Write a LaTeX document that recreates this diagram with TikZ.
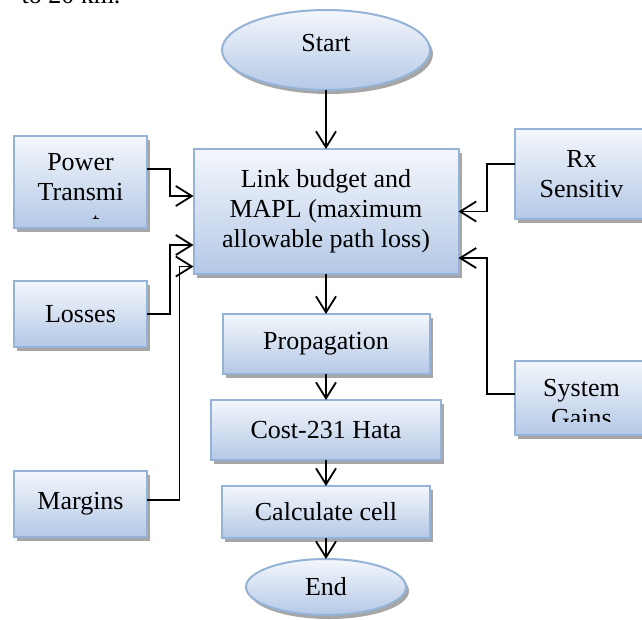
\documentclass[tikz,border=0pt]{standalone}
\usepackage{fontspec}
\setmainfont{Liberation Serif}
\usetikzlibrary{positioning,shapes.geometric,shadows,arrows.meta}
\definecolor{boxline}{RGB}{149,179,215}
\definecolor{boxtop}{RGB}{244,247,252}
\definecolor{boxbot}{RGB}{180,200,230}

\begin{document}
\begin{tikzpicture}[x=1pt,y=-1pt,
		font=\fontsize{26}{30}\selectfont,
		box/.style={rectangle,draw=boxline,line width=2pt,top color=boxtop,bottom color=boxbot,
			drop shadow={shadow xshift=3pt,shadow yshift=-4pt,fill=black!35,opacity=1},
			align=center,inner sep=0pt,outer sep=0pt},
		term/.style={box,ellipse},
		flow/.style={line width=1.8pt,-{Straight Barb[length=16pt,width=20pt]}}]
			\useasboundingbox (0,0) rectangle (642,619);
			\node[anchor=base west] (txt) at (18,3) {to 20 km.};
			
			\node[term,minimum width=208pt,minimum height=80pt,text depth=14pt] (start) at (326,50) {Start};
			\node[box,minimum width=265pt,minimum height=125pt,below=59pt of start] (link) {Link budget and\\MAPL (maximum\\allowable path loss)};
			\node[box,minimum width=207pt,minimum height=60pt,below=40pt of link] (prop) {Propagation};
			\node[box,minimum width=230pt,minimum height=60pt,below=26pt of prop] (cost) {Cost-231 Hata};
			\node[box,minimum width=208pt,minimum height=52pt,below=26pt of cost] (calc) {Calculate cell};
			\node[term,minimum width=160pt,minimum height=56pt,below=21pt of calc] (stop) {End};
			
			\node[box,minimum width=133pt,minimum height=92pt] (pow) at (80.5,182) {};
			\node[box,minimum width=133pt,minimum height=66pt] (loss) at (80.5,314) {Losses};
			\node[box,minimum width=133pt,minimum height=66pt] (marg) at (80.5,504) {Margins};
			\node[box,minimum width=133pt,minimum height=90pt] (rx) at (581.5,174) {Rx\\Sensitiv};
			\node[box,minimum width=133pt,minimum height=74pt] (gain) at (581.5,398) {};
			
			% text cut off by the box
			\begin{scope}
				\clip (pow.north west) rectangle ([yshift=10pt]pow.south east);
				\node[anchor=north,align=center,inner sep=0pt] (powtxt) at ([yshift=-17pt]pow.north) {Power\\Transmi};
				\node[anchor=base,inner sep=0pt] (powcut) at (96,230) {t};
			\end{scope}
			\begin{scope}
				\clip (gain.north west) rectangle ([yshift=14pt]gain.south east);
				\node[anchor=north,align=center,inner sep=0pt] (gaintxt) at ([yshift=-18pt]gain.north) {System\\Gains};
			\end{scope}
			
			\draw[flow] (start.south) -- (link.north);
			\draw[flow] (link.south) -- (prop.north);
			\draw[flow] (prop.south) -- (cost.north);
			\draw[flow] (cost.south) -- (calc.north);
			\draw[flow] (calc.south) -- (stop.north);
			
			\draw[flow] ([yshift=13pt]pow.east) -- ++(23,0) |- ([yshift=15.5pt]link.west);
			\draw[flow] (loss.east) -- ++(23,0) |- ([yshift=-33.5pt]link.west);
			\draw[flow] ([yshift=4pt]marg.east) -- ++(32.5,0) |- ([yshift=-55pt]link.west);
			\draw[flow] ([yshift=10pt]rx.west) -- ++(-28,0) |- (link.east);
			\draw[flow] ([yshift=4pt]gain.west) -- ++(-28,0) |- ([yshift=-46.5pt]link.east);
		\end{tikzpicture}
\end{document}
